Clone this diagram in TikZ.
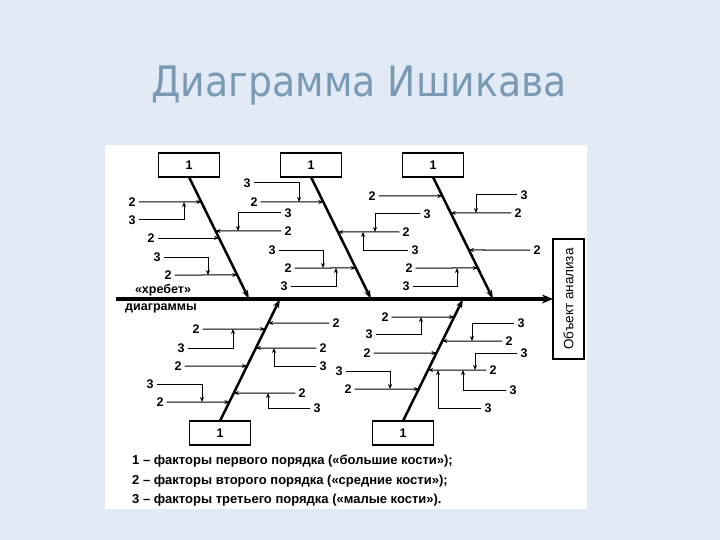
\documentclass[tikz,border=0pt]{standalone}
\usepackage{fontspec}
\usepackage{graphicx}
\setmainfont{Liberation Sans}
\newfontfamily\headfont{DejaVu Sans}
\usetikzlibrary{calc,arrows.meta}
\definecolor{slidebg}{RGB}{226,235,245}
\definecolor{headblue}{RGB}{122,154,180}

\begin{document}
\begin{tikzpicture}[x=1pt,y=-1pt,>={Stealth[length=5pt,width=4pt]},font=\bfseries\fontsize{12.5}{14}\selectfont]
\tikzstyle{cause}=[rectangle,draw,line width=1.3pt,minimum width=61pt,minimum height=24pt,inner sep=0pt,outer sep=0pt]
\tikzstyle{num}=[inner sep=3pt]
\tikzstyle{twig}=[line width=1pt,->]
\tikzstyle{bone}=[line width=2.5pt,-{Stealth[length=9pt,width=6pt]}]
\tikzstyle{spine}=[line width=3.4pt,-{Stealth[length=11pt,width=9pt]}]

% slide and title
\fill[slidebg] (0,0) rectangle (720,540);
\fill[white] (105,145) rectangle (587,509);
\node[font=\headfont\mdseries\fontsize{42}{48}\selectfont,text=headblue] (title) at (359,86) {\scalebox{0.9}[1]{Диаграмма Ишикава}};

% spine
\node[draw,line width=1.3pt,rotate=90,minimum width=120pt,minimum height=31pt,inner sep=0pt,outer sep=0pt,font=\mdseries\fontsize{13.5}{15}\selectfont] (obj) at (568.5,299) {Объект анализа};
\coordinate (tail) at (116,299);
\draw[spine] (tail) -- (obj.north);
\node[font=\bfseries\fontsize{12.5}{14}\selectfont] (ridge) at (163,290) {«хребет»};
\node[font=\bfseries\fontsize{12.5}{14}\selectfont] (ridge2) at (161,308) {диаграммы};

% big bones
\node[cause] (c1) at (189,165) {1};
\node[cause] (c2) at (311,165) {1};
\node[cause] (c3) at (433,165) {1};
\node[cause] (c4) at (220,433) {1};
\node[cause] (c5) at (403,433) {1};
\foreach \i in {1,2,3} \coordinate (r\i) at (c\i.south);
\foreach \i in {4,5} \coordinate (r\i) at (c\i.north);
\coordinate (s1) at (249,299);
\coordinate (s2) at (371,299);
\coordinate (s3) at (493,299);
\coordinate (s4) at (280,299);
\coordinate (s5) at (463,299);
\foreach \i in {1,...,5} \draw[bone] (r\i) -- (s\i);

% middle bones (2)
\foreach \b/\nm/\lx/\ly/\side in {1/mid1a/132/202/east,1/mid1b/151/238/east,1/mid1c/168/275/east,1/mid1d/288/231/west,
  2/mid2a/254/202/east,2/mid2b/288/268/east,2/mid2c/406/232/west,
  3/mid3a/372/196/east,3/mid3b/409/268/east,3/mid3c/518/213/west,3/mid3d/537/250/west,
  4/mid4a/196/329/east,4/mid4b/178/366/east,4/mid4c/160/402/east,4/mid4d/336/323/west,4/mid4e/323/348/west,4/mid4f/302/393/west,
  5/mid5a/385/317/east,5/mid5b/367/353/east,5/mid5c/348/389/east,5/mid5d/509/341/west,5/mid5e/493/370/west}{
  \pgfmathsetmacro{\fr}{\b<4 ? (\ly-177)/122 : (421-\ly)/122}
  \node[num] (\nm) at (\lx,\ly) {2};
  \draw[twig] (\nm.\side) -- ($(r\b)!\fr!(s\b)$);
}

% small bones (3)
\foreach \nm/\lx/\ly/\cx/\ty/\side in {sm1a/132/220/184/202/east,sm1b/157/257/208/275/east,sm1c/288/213/238/231/west,
  sm2a/247/183/299/202/east,sm2b/272/250/323/268/east,sm2c/284/286/336/268/east,sm2d/427/214/375/232/west,sm2e/415/250/363/232/west,
  sm3a/406/286/457/268/east,sm3b/524/195/476/213/west,
  sm4a/181/348/233/329/east,sm4b/150/384/202/402/east,sm4c/323/366/274/348/west,sm4d/317/408/268/393/west,
  sm5a/369/334/421/317/east,sm5b/339/371/390/389/east,sm5c/521/323/472/341/west,sm5d/524/353/475/370/west,sm5e/513/390/463/370/west,sm5f/488/408/438/370/west}{
  \node[num] (\nm) at (\lx,\ly) {3};
  \coordinate (\nm-hit) at (\cx,\ty);
  \draw[twig] (\nm.\side) -| (\nm-hit);
}

% legend
\node[anchor=west,align=left,inner sep=0pt,font=\bfseries\fontsize{13}{19.5}\selectfont] (legend) at (132,481) {1 – факторы первого порядка («большие кости»);\\2 – факторы второго порядка («средние кости»);\\3 – факторы третьего порядка («малые кости»).};
\end{tikzpicture}
\end{document}
